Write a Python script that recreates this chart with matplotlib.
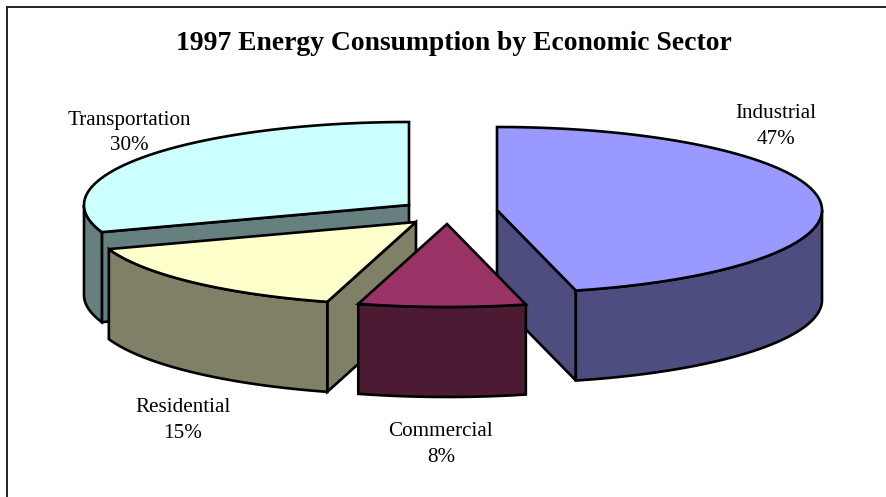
import numpy as np
import matplotlib
matplotlib.use("Agg")
import matplotlib.pyplot as plt
from matplotlib.patches import Polygon

plt.rcParams['font.family'] = ['Liberation Serif', 'DejaVu Serif']

# Data
title = "1997 Energy Consumption by Economic Sector"
sectors = ["Industrial", "Commercial", "Residential", "Transportation"]
# Angular shares as drawn in the picture (percent of the circle)
shares = [46.1, 8.3, 15.3, 30.3]
# Percentages as printed on the labels
printed = [47, 8, 15, 30]

# Styles and layout
tops = ["#9999FF", "#993366", "#FFFFCC", "#CCFFFF"]
sides = ["#4D4D80", "#4D1A33", "#808066", "#668080"]
apex = [(497, 210), (447, 224), (416, 222), (409, 205)]
label_xy = [(776, 126), (441, 444), (183, 421), (129, 133)]
A, B, DEPTH = 325, 83, 90
LW = 1.9

fig = plt.figure(figsize=(8.87, 4.97), dpi=100)
ax = fig.add_axes([0, 0, 1, 1])
ax.set_xlim(0, 887)
ax.set_ylim(497, 0)
ax.axis("off")

# Chart frame: only left and top edges are inside the crop
ax.plot([7.5, 7.5, 887], [497, 6.5, 6.5], color="#222222", lw=1.4, solid_joinstyle="miter")

edges = np.cumsum([0] + shares) * 3.6


def rim(center, t0, t1, n=120):
    t = np.radians(np.linspace(t0, t1, n))
    return np.column_stack([center[0] + A * np.sin(t), center[1] - B * np.cos(t)])


def poly(pts, color, z):
    ax.add_patch(Polygon(pts, closed=True, facecolor=color, edgecolor="black",
                         lw=LW, joinstyle="miter", zorder=z))


# Painter's order: back to front
for z, i in enumerate([3, 2, 0, 1]):
    c = np.array(apex[i], float)
    t0, t1 = edges[i], edges[i + 1]
    drop = np.array([0, DEPTH])
    base = z * 10 + 2
    # Radial cut faces: only the ones turned toward the viewer
    if 180 < t0 < 360:
        e = rim(c, t0, t0, 1)[0]
        poly([c, e, e + drop, c + drop], sides[i], base)
    if 0 < t1 < 180:
        e = rim(c, t1, t1, 1)[0]
        poly([c, e, e + drop, c + drop], sides[i], base)
    # Outer wall (front half only)
    w0, w1 = max(t0, 90), min(t1, 270)
    if w1 > w0:
        r = rim(c, w0, w1)
        poly(np.vstack([r, (r + drop)[::-1]]), sides[i], base + 1)
    # Top face
    poly(np.vstack([[c], rim(c, t0, t1, 240)]), tops[i], base + 2)

ax.text(453.5, 44, title, ha="center", va="center", fontsize=19.9,
        fontweight="bold", color="black", zorder=100)
for name, pct, (x, y) in zip(sectors, printed, label_xy):
    ax.text(x, y, f"{name}\n{pct}%", ha="center", va="center", fontsize=15.2,
            linespacing=1.5, color="black", zorder=100)

fig.savefig("out.png", dpi=100)
